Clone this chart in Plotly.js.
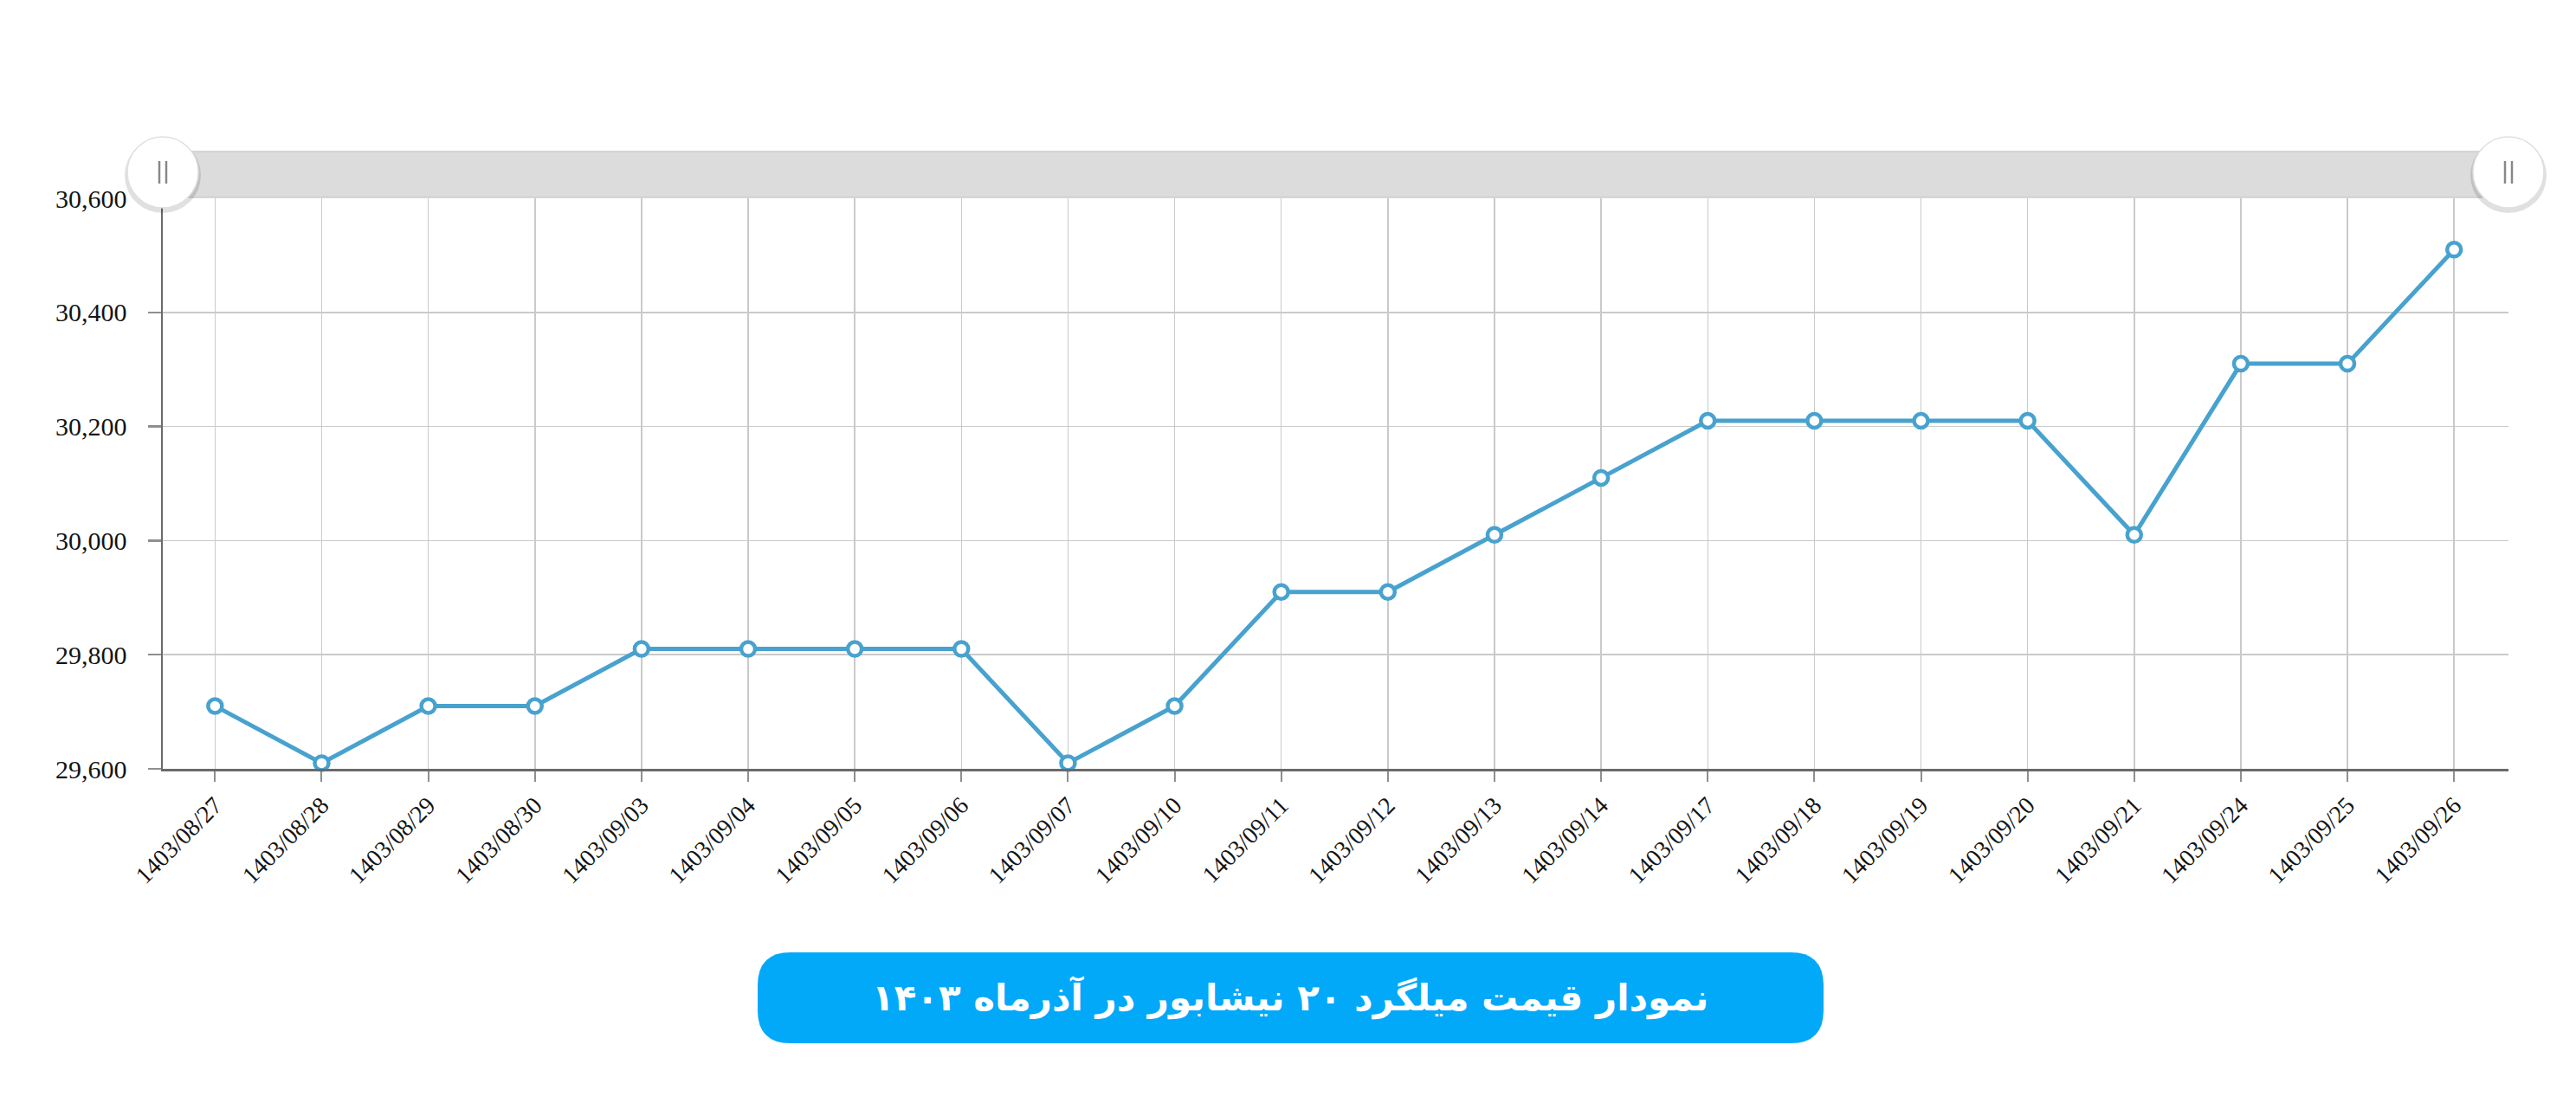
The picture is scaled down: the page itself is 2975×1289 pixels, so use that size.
<!DOCTYPE html>
<html>
<head>
<meta charset="utf-8">
<script src="https://cdn.plot.ly/plotly-3.0.1.min.js"></script>
<style>html,body{margin:0;padding:0;background:#fff;}#chart{width:2975px;height:1289px;}</style>
</head>
<body>
<div id="chart"></div>
<script>
const dates = ['1403/08/27','1403/08/28','1403/08/29','1403/08/30','1403/09/03','1403/09/04','1403/09/05','1403/09/06','1403/09/07','1403/09/10','1403/09/11','1403/09/12','1403/09/13','1403/09/14','1403/09/17','1403/09/18','1403/09/19','1403/09/20','1403/09/21','1403/09/24','1403/09/25','1403/09/26'];
const prices = [29710,29610,29710,29710,29810,29810,29810,29810,29610,29710,29910,29910,30010,30110,30210,30210,30210,30210,30010,30310,30310,30510];
const yTicks = [29600,29800,30000,30200,30400,30600];
const titleText = 'نمودار قیمت میلگرد ۲۰ نیشابور در آذرماه ۱۴۰۳';

const W = 2975, H = 1289;
const M = {l:188, r:78, t:229, b:401};
const PW = W - M.l - M.r, PH = H - M.t - M.b;
const px = x => (x - M.l) / PW;
const py = y => (H - M.b - y) / PH;

function roundRect(x0, y0, x1, y1, r){
  const P = (x,y) => px(x).toFixed(5) + ',' + py(y).toFixed(5);
  return 'M' + P(x0+r,y0) + ' L' + P(x1-r,y0) + ' Q' + P(x1,y0) + ' ' + P(x1,y0+r) +
    ' L' + P(x1,y1-r) + ' Q' + P(x1,y1) + ' ' + P(x1-r,y1) +
    ' L' + P(x0+r,y1) + ' Q' + P(x0,y1) + ' ' + P(x0,y1-r) +
    ' L' + P(x0,y0+r) + ' Q' + P(x0,y0) + ' ' + P(x0+r,y0) + ' Z';
}

const lineColor = '#48a2cf';

const trace = {
  x: dates, y: prices, type: 'scatter', mode: 'lines+markers',
  line: {color: lineColor, width: 5},
  marker: {size: 16, color: '#ffffff', line: {color: lineColor, width: 4.5}},
  hoverinfo: 'x+y', cliponaxis: false
};

const handleY = py(199);
function handle(xa){
  return [
    {type:'circle', xref:'paper', yref:'paper', xsizemode:'pixel', ysizemode:'pixel',
     xanchor:xa, yanchor:handleY, x0:-44, x1:44, y0:-47, y1:40,
     fillcolor:'rgba(0,0,0,0.12)', line:{width:0}, layer:'above'},
    {type:'circle', xref:'paper', yref:'paper', xsizemode:'pixel', ysizemode:'pixel',
     xanchor:xa, yanchor:handleY, x0:-41, x1:41, y0:-41, y1:41,
     fillcolor:'#ffffff', line:{color:'#e0e0e0', width:1.5}, layer:'above'},
    {type:'line', xref:'paper', yref:'paper', xsizemode:'pixel', ysizemode:'pixel',
     xanchor:xa, yanchor:handleY, x0:-4, x1:-4, y0:-13, y1:13,
     line:{color:'#888888', width:2.5}, layer:'above'},
    {type:'line', xref:'paper', yref:'paper', xsizemode:'pixel', ysizemode:'pixel',
     xanchor:xa, yanchor:handleY, x0:4, x1:4, y0:-13, y1:13,
     line:{color:'#888888', width:2.5}, layer:'above'}
  ];
}

const shapes = [
  {type:'rect', xref:'paper', yref:'paper', x0:0, x1:1, y0:py(228), y1:py(175),
   fillcolor:'#dcdcdc', line:{color:'#cbcbcb', width:1.5}, layer:'above'},
  ...handle(0), ...handle(1),
  {type:'path', xref:'paper', yref:'paper', path: roundRect(875,1100,2106,1205,38),
   fillcolor:'#03a9f9', line:{width:0}, layer:'above'}
];

const layout = {
  width: W, height: H,
  margin: {l:M.l, r:M.r, t:M.t, b:M.b, pad:0, autoexpand:false},
  paper_bgcolor: '#ffffff', plot_bgcolor: '#ffffff',
  showlegend: false,
  xaxis: {
    type: 'category', range: [-0.49, 21.51],
    showgrid: true, gridcolor: '#cacaca', gridwidth: 1.5,
    showline: true, linecolor: '#6a6a6a', linewidth: 2.5,
    ticks: 'outside', ticklen: 12, tickwidth: 2, tickcolor: '#8f8f8f',
    tickangle: -45,
    tickfont: {family: '"Liberation Serif", "Times New Roman", serif', size: 28, color: '#141414'},
    zeroline: false, fixedrange: true
  },
  yaxis: {
    range: [29600, 30600], tickvals: yTicks, tickformat: ',',
    showgrid: true, gridcolor: '#cacaca', gridwidth: 1.5,
    showline: true, linecolor: '#6a6a6a', linewidth: 2.5,
    ticks: 'outside', ticklen: 15, tickwidth: 2.5, tickcolor: '#8f8f8f',
    ticklabelstandoff: 18,
    tickfont: {family: '"Liberation Serif", "Times New Roman", serif', size: 30, color: '#141414'},
    zeroline: false, fixedrange: true
  },
  shapes: shapes,
  annotations: [{
    xref:'paper', yref:'paper', x: px(1490), y: py(1152), xanchor:'center', yanchor:'middle',
    text: '<b>' + titleText + '</b>', showarrow:false,
    font: {family:'"DejaVu Sans", "Noto Sans", sans-serif', size: 42, color:'#ffffff'}
  }]
};

Plotly.newPlot('chart', [trace], layout, {displayModeBar:false, staticPlot:true});
</script>
</body>
</html>
